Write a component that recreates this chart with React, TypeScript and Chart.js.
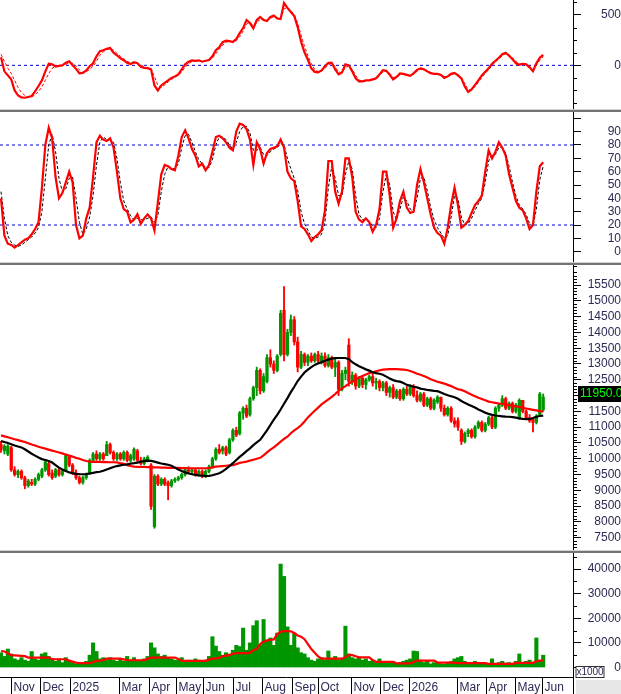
import React, { useEffect, useRef } from 'react';
import { Chart, registerables } from 'chart.js';

Chart.register(...registerables);

const FONT = '"Liberation Sans", Arial, sans-serif';
const TEXT = '#2a2a55';
const GREEN = '#009600';
const RED = '#ff0000';
const BLUE = '#0000cc';

// ---- time axis (bar index) ----
const monthStarts = [2.93, 11.44, 20.09, 34.6, 43.4, 51.32, 59.24, 67.89, 76.54, 85.34, 92.96, 102.64, 111.0, 119.65, 133.72, 142.23, 150.73, 158.65];
const monthLabels = ['Nov', 'Dec', '2025', 'Mar', 'Apr', 'May', 'Jun', 'Jul', 'Aug', 'Sep', 'Oct', 'Nov', 'Dec', '2026', 'Mar', 'Apr', 'May', 'Jun'];
const X_MIN = -0.293;
const X_MAX = 167.74;

// ---- price candles ----
const opens = [
  10450, 10250, 10150, 10350, 9650, 9500, 9600, 9400, 9150, 9250,
  9200, 9350, 9450, 9650, 9850, 9550, 9450, 9650, 9500, 9600,
  10050, 9800, 9550, 9400, 9250, 9400, 9550, 9950, 10150, 10000,
  10150, 10100, 10450, 10200, 10000, 10150, 10000, 10200, 9950, 10000,
  10250, 9950, 9850, 9950, 9800, 7850, 9450, 9200, 9350, 9250,
  9150, 9300, 9350, 9400, 9500, 9650, 9600, 9650, 9500, 9600,
  9450, 9600, 9750, 10000, 10300, 10250, 10350, 10200, 10600, 10900,
  10800, 11450, 11600, 11400, 11900, 12250, 12800, 12150, 12450, 13200,
  13000, 12800, 13300, 14700, 13300, 14000, 14400, 13700, 12900, 13300,
  13050, 13250, 13100, 13300, 13100, 13250, 12950, 13200, 12900, 13050,
  12200, 12700, 13600, 12450, 12650, 12300, 12550, 12350, 12500, 12600,
  12400, 12450, 12250, 12400, 12100, 12250, 11950, 12150, 11900, 12200,
  12050, 12300, 12000, 11850, 12050, 11700, 11900, 11600, 11800, 11950,
  11600, 11400, 11600, 11200, 11200, 10900, 10550, 10800, 10900, 10700,
  11000, 11150, 10900, 11100, 11300, 11000, 11600, 11700, 11900, 11600,
  11750, 11500, 11300, 11850, 11500, 11300, 11250, 11150, 11400, 11550,
];
const highs = [
  10550, 10450, 10450, 10400, 9750, 9650, 9650, 9450, 9350, 9350,
  9400, 9550, 9700, 9950, 9900, 9650, 9700, 9700, 9650, 10150,
  10100, 9850, 9650, 9450, 9450, 9550, 10000, 10200, 10250, 10200,
  10200, 10550, 10500, 10250, 10200, 10200, 10250, 10250, 10150, 10350,
  10300, 10050, 10050, 10100, 9850, 9500, 9500, 9400, 9400, 9300,
  9350, 9400, 9450, 9550, 9700, 9750, 9700, 9700, 9650, 9650,
  9650, 9800, 10050, 10350, 10450, 10400, 10400, 10650, 10950, 11000,
  11500, 11650, 11700, 11950, 12300, 12900, 12850, 12700, 13300, 13450,
  13100, 13300, 14700, 15450, 14100, 14550, 14500, 13850, 13400, 13350,
  13300, 13350, 13350, 13400, 13350, 13350, 13300, 13250, 13150, 13100,
  12800, 12900, 13800, 12750, 12700, 12600, 12600, 12550, 12650, 12700,
  12550, 12500, 12450, 12450, 12300, 12350, 12200, 12200, 12250, 12300,
  12350, 12350, 12150, 12100, 12100, 11950, 11950, 11900, 12000, 11950,
  11700, 11650, 11650, 11300, 11300, 10950, 10850, 10950, 10950, 11050,
  11200, 11200, 11150, 11350, 11350, 11650, 11750, 12000, 11950, 11800,
  11800, 11750, 11900, 11850, 11550, 11400, 11300, 11400, 12100, 12050,
];
const lows = [
  10200, 10150, 10100, 9600, 9450, 9400, 9350, 9050, 9100, 9150,
  9150, 9300, 9400, 9600, 9450, 9350, 9400, 9450, 9450, 9600,
  9750, 9500, 9350, 9200, 9200, 9350, 9500, 9900, 9950, 9950,
  9950, 10100, 10150, 9950, 9950, 9950, 9950, 9900, 9900, 9950,
  9900, 9800, 9800, 9900, 8400, 7800, 9150, 9150, 9150, 8700,
  9100, 9250, 9300, 9350, 9450, 9550, 9500, 9450, 9450, 9400,
  9400, 9550, 9700, 9950, 10150, 10150, 10100, 10150, 10550, 10700,
  10750, 11250, 11300, 11350, 11850, 12000, 12050, 12100, 12400, 12900,
  12700, 12750, 13250, 13100, 13250, 13900, 13600, 12750, 12850, 12950,
  12950, 13050, 13050, 13050, 13000, 12900, 12900, 12850, 12600, 12000,
  12150, 12500, 12300, 12350, 12200, 12250, 12250, 12200, 12450, 12300,
  12200, 12150, 12150, 12000, 11950, 11900, 11900, 11850, 11850, 12000,
  12000, 11950, 11800, 11800, 11650, 11650, 11550, 11550, 11750, 11500,
  11350, 11350, 11150, 11000, 10900, 10450, 10500, 10700, 10650, 10650,
  10950, 10850, 10850, 11050, 10950, 10950, 11500, 11650, 11550, 11550,
  11450, 11450, 11250, 11450, 11250, 11150, 10850, 11100, 11350, 11500,
];
const closes = [
  10300, 10400, 10400, 9650, 9500, 9600, 9400, 9150, 9300, 9200,
  9350, 9500, 9650, 9900, 9500, 9400, 9650, 9500, 9600, 10100,
  9800, 9550, 9400, 9250, 9400, 9500, 9950, 10150, 10000, 10150,
  10000, 10450, 10200, 10000, 10150, 10000, 10200, 9950, 10100, 10300,
  9950, 9850, 10000, 10050, 8500, 9450, 9200, 9350, 9200, 9150,
  9300, 9350, 9400, 9500, 9650, 9600, 9650, 9500, 9600, 9450,
  9600, 9750, 10000, 10300, 10200, 10350, 10150, 10600, 10900, 10750,
  11450, 11600, 11350, 11900, 12250, 12800, 12150, 12600, 13200, 13000,
  12800, 13250, 14600, 13300, 14000, 14400, 13700, 12900, 13300, 13050,
  13250, 13100, 13300, 13100, 13250, 12950, 13200, 12900, 13050, 12200,
  12700, 12800, 12450, 12650, 12300, 12550, 12350, 12500, 12600, 12400,
  12450, 12250, 12400, 12100, 12250, 11950, 12150, 11900, 12200, 12050,
  12300, 12000, 11850, 12050, 11700, 11900, 11600, 11850, 11950, 11600,
  11400, 11600, 11200, 11100, 11000, 10550, 10800, 10900, 10700, 11000,
  11150, 10900, 11100, 11300, 11000, 11600, 11700, 11900, 11600, 11750,
  11500, 11700, 11850, 11500, 11300, 11200, 11150, 11350, 12050, 11950,
];
// moving averages on price
const maFast = [
  10560, 10530, 10500, 10460, 10420, 10390, 10360, 10300, 10230, 10160,
  10100, 10040, 9990, 9960, 9930, 9880, 9800, 9720, 9660, 9610,
  9570, 9545, 9525, 9515, 9510, 9515, 9535, 9555, 9575, 9590,
  9620, 9660, 9700, 9740, 9770, 9790, 9810, 9825, 9845, 9860,
  9880, 9905, 9925, 9940, 9935, 9910, 9880, 9850, 9830, 9810,
  9780, 9720, 9660, 9610, 9570, 9540, 9510, 9490, 9475, 9465,
  9455, 9460, 9480, 9510, 9540, 9600, 9680, 9770, 9860, 9960,
  10060, 10150, 10240, 10330, 10430, 10520, 10600, 10750, 10900, 11070,
  11240, 11390, 11560, 11740, 11920, 12110, 12280, 12460, 12600, 12730,
  12820, 12900, 12970, 13020, 13060, 13100, 13140, 13170, 13185, 13190,
  13190, 13190, 13150, 13060, 12990, 12930, 12880, 12830, 12790, 12740,
  12710, 12690, 12660, 12600, 12540, 12490, 12460, 12440, 12400, 12340,
  12310, 12280, 12260, 12220, 12200, 12180, 12165, 12150, 12140, 12100,
  12050, 12010, 11980, 11950, 11900, 11830, 11770, 11720, 11670, 11620,
  11560, 11510, 11460, 11420, 11390, 11370, 11355, 11345, 11335, 11330,
  11320, 11300, 11280, 11265, 11255, 11260, 11290, 11330, 11355, 11365,
];
const maSlow = [
  10740, 10710, 10680, 10650, 10620, 10590, 10560, 10530, 10490, 10450,
  10420, 10380, 10350, 10320, 10290, 10260, 10230, 10200, 10170, 10130,
  10100, 10070, 10030, 10000, 9960, 9930, 9910, 9900, 9900, 9900,
  9895, 9895, 9890, 9890, 9885, 9860, 9840, 9800, 9770, 9750,
  9745, 9740, 9740, 9735, 9730, 9730, 9725, 9720, 9720, 9715,
  9715, 9710, 9710, 9705, 9705, 9700, 9700, 9700, 9700, 9700,
  9700, 9705, 9730, 9750, 9760, 9770, 9780, 9790, 9800, 9830,
  9870, 9890, 9910, 9940, 9970, 10000, 10030, 10110, 10200, 10290,
  10360, 10450, 10540, 10630, 10700, 10810, 10900, 10970, 11060, 11180,
  11310, 11420, 11520, 11620, 11720, 11800, 11880, 11960, 12050, 12150,
  12230, 12300, 12380, 12440, 12510, 12570, 12620, 12670, 12710, 12740,
  12770, 12800, 12820, 12830, 12840, 12840, 12840, 12830, 12820, 12810,
  12780, 12740, 12690, 12660, 12620, 12570, 12520, 12480, 12440, 12410,
  12380, 12340, 12300, 12250, 12200, 12180, 12140, 12080, 12030, 11980,
  11930, 11890, 11850, 11810, 11790, 11770, 11750, 11740, 11720, 11700,
  11680, 11660, 11640, 11610, 11590, 11570, 11550, 11530, 11510, 11490,
];

// ---- volume (x1000) ----
const volumes = [
  6000, 4500, 7500, 5500, 3500, 3000, 4000, 3000, 2500, 6500,
  3500, 3000, 5500, 6000, 4500, 3000, 2500, 3500, 2000, 4000,
  2500, 2000, 1500, 2000, 1500, 2500, 5000, 10000, 6500, 3500,
  4000, 3000, 4000, 3000, 2500, 3500, 2500, 4500, 3000, 4000,
  2500, 3000, 3500, 4500, 10000, 8000, 5500, 4500, 5000, 4000,
  3500, 3000, 3000, 4000, 2500, 3000, 2500, 3500, 3000, 2500,
  3000, 4500, 12500, 8700, 6500, 5000, 6000, 5500, 7000, 9000,
  8500, 16000, 7000, 10000, 17000, 19000, 9000, 19500, 11000, 12000,
  9000, 14000, 42000, 37000, 16500, 9000, 14000, 8000, 6000, 5500,
  4000, 3000, 2500, 3500, 4000, 3000, 6700, 3500, 4500, 3000,
  3500, 16800, 5500, 4000, 3500, 4000, 3000, 3500, 2500, 3000,
  2000, 3500, 2500, 2000, 1800, 2200, 1500, 2000, 2500, 3000,
  3500, 6700, 6500, 3000, 2000, 2500, 1500, 2000, 1800, 1500,
  1300, 2000, 2500, 3500, 4000, 4500, 2500, 2000, 1800, 2500,
  2000, 1500, 1800, 1500, 3500, 1500, 2000, 2500, 1800, 2000,
  1500, 2500, 5500, 2000, 2500, 3000, 1800, 12000, 2500, 5000,
];
const volumeMa = [
  6700, 6500, 5800, 5000, 4900, 4800, 4700, 4600, 4050, 4050,
  4050, 4050, 4050, 4050, 4050, 3400, 3350, 3350, 3350, 3350,
  2800, 2400, 2000, 1750, 1750, 1750, 1750, 2200, 2700, 2800,
  3000, 3600, 3600, 3600, 3600, 3600, 3300, 2950, 2950, 2950,
  2950, 2950, 2950, 3500, 4050, 4050, 4050, 4050, 4050, 4050,
  4050, 4050, 3500, 2700, 2700, 2700, 2700, 2700, 2700, 2700,
  2700, 3200, 3600, 3700, 3900, 4600, 4800, 5000, 5600, 5800,
  5800, 5800, 5800, 6000, 7000, 7500, 9500, 10500, 11000, 11200,
  11400, 13500, 14500, 14800, 14800, 14700, 14000, 13000, 12500, 11500,
  9500, 7500, 6000, 4500, 3600, 3600, 3600, 3600, 3600, 3600,
  3600, 4200, 5100, 5000, 4600, 4100, 4100, 4100, 4100, 3000,
  2300, 2300, 2300, 2300, 2300, 2300, 1700, 1700, 1700, 1700,
  1700, 2200, 2800, 2800, 2800, 2800, 2800, 2800, 2000, 2000,
  2000, 2000, 2000, 2000, 1800, 1800, 1800, 1800, 1800, 1800,
  1800, 1800, 1800, 1500, 1500, 1500, 1500, 1500, 1500, 1500,
  1500, 1900, 1900, 1900, 1900, 1900, 1900, 2500, 2800, 2900,
];

// ---- MACD ----
const macd = [
  80, -60, -100, -140, -250, -300, -318, -322, -315, -305,
  -260, -205, -150, -60, 15, 10, -13, -5, 0, 25,
  40, 0, -35, -80, -75, -50, -10, 20, 90, 140,
  150, 165, 172, 125, 100, 70, 50, 25, 13, 30,
  20, -15, -25, -28, -40, -200, -250, -200, -175, -150,
  -125, -110, -90, -40, 10, 35, 50, 45, 50, 36,
  45, 52, 90, 150, 180, 230, 245, 240, 232, 260,
  320, 370, 450, 420, 368, 450, 480, 450, 440, 480,
  495, 465, 460, 620, 570, 530, 490, 380, 235, 130,
  55, -30, -65, -70, -50, -10, 25, 25, -40, -90,
  -70, 10, 0, -60, -130, -160, -160, -150, -150, -140,
  -128, -90, -48, -55, -95, -140, -115, -80, -85, -95,
  -105, -80, -45, -30, -40, -60, -78, -85, -85, -95,
  -125, -110, -85, -75, -100, -130, -210, -265, -240, -195,
  -150, -100, -63, -30, 15, 45, 75, 110, 125, 95,
  60, 20, 5, 15, 10, -20, -58, 20, 75, 103,
];
const macdSignal = [
  110, 40, -30, -80, -150, -220, -270, -300, -312, -312,
  -295, -260, -215, -150, -80, -30, -10, -8, -5, 8,
  25, 20, -5, -45, -70, -65, -40, -10, 40, 100,
  135, 155, 165, 150, 120, 90, 65, 40, 22, 22,
  22, 5, -15, -25, -35, -110, -200, -220, -195, -165,
  -140, -120, -100, -65, -20, 15, 38, 45, 47, 42,
  43, 48, 70, 115, 160, 200, 230, 238, 235, 245,
  285, 340, 410, 425, 395, 420, 460, 460, 448, 465,
  485, 475, 465, 560, 575, 545, 505, 420, 300, 190,
  95, 15, -40, -62, -58, -30, 5, 20, -15, -65,
  -75, -20, -5, -40, -100, -145, -158, -155, -150, -145,
  -135, -105, -65, -58, -80, -120, -120, -95, -88, -92,
  -100, -88, -60, -40, -40, -52, -70, -80, -85, -92,
  -112, -112, -95, -82, -92, -118, -180, -240, -245, -210,
  -170, -120, -80, -45, 0, 35, 62, 95, 115, 105,
  75, 38, 15, 15, 12, -10, -42, 0, 50, 88,
];

// ---- Stochastic ----
const stochK = [
  40, 12, 6, 5, 3, 5, 7, 9, 10, 13,
  17, 22, 48, 80, 93, 85, 56, 40, 44, 52,
  60, 52, 20, 10, 12, 25, 33, 56, 82, 87,
  84, 83, 85, 78, 60, 40, 32, 30, 22, 24,
  28, 21, 25, 28, 25, 16, 37, 58, 65, 64,
  62, 61, 72, 86, 91, 85, 77, 72, 64, 66,
  61, 65, 75, 86, 87, 85, 82, 78, 76, 90,
  96, 95, 92, 84, 65, 82, 77, 66, 74, 77,
  78, 79, 84, 78, 60, 55, 53, 38, 19, 17,
  13, 8, 11, 13, 16, 31, 68, 68, 45, 36,
  45, 70, 70, 56, 30, 24, 22, 25, 22, 15,
  20, 32, 60, 60, 42, 18, 25, 38, 45, 33,
  29, 30, 50, 62, 52, 40, 28, 18, 14, 12,
  6, 18, 35, 48, 35, 18, 20, 23, 29, 35,
  38, 42, 60, 76, 70, 75, 82, 78, 72, 58,
  48, 38, 33, 31, 25, 17, 20, 45, 64, 67,
];
const stochD = [
  45, 25, 12, 7, 5, 4, 5, 7, 9, 11,
  14, 18, 30, 55, 80, 88, 75, 55, 45, 47,
  55, 56, 40, 22, 13, 17, 26, 42, 65, 82,
  86, 84, 84, 82, 70, 52, 38, 32, 27, 24,
  25, 24, 24, 25, 26, 22, 27, 45, 58, 64,
  63, 62, 66, 78, 87, 88, 82, 75, 69, 66,
  63, 63, 69, 80, 86, 86, 84, 80, 77, 82,
  90, 94, 94, 89, 76, 76, 78, 73, 72, 75,
  77, 78, 81, 80, 70, 62, 55, 46, 30, 21,
  16, 11, 10, 11, 13, 22, 48, 64, 55, 42,
  42, 58, 68, 62, 42, 28, 24, 24, 23, 19,
  18, 25, 45, 58, 50, 30, 24, 32, 41, 38,
  32, 30, 40, 55, 56, 46, 33, 24, 18, 14,
  10, 12, 26, 42, 40, 26, 20, 21, 25, 31,
  36, 40, 52, 68, 72, 73, 78, 78, 74, 64,
  52, 42, 35, 32, 28, 21, 19, 32, 54, 64,
];

// ---- reference levels & axis ticks ----
const macdLevels = [0];
const stochLevels = [80, 20];
const macdTicks = [0, 500];
const macdMinor = [-375, -250, -125, 125, 250, 375, 625];
const stochTicks = [0, 10, 20, 30, 40, 50, 60, 70, 80, 90, 100];
const priceTicks = [7500, 8000, 8500, 9000, 9500, 10000, 10500, 11000, 11500, 12000, 12500, 13000, 13500, 14000, 14500, 15000, 15500];
const volTicks = [0, 10000, 20000, 30000, 40000];
const volMinor = [5000, 15000, 25000, 35000, 45000];

const priceMinor: number[] = [];
for (let v = 7200; v <= 16100; v += 100) if (v % 500 !== 0) priceMinor.push(v);

// ---------------------------------------------------------------
function yAxis(min: number, max: number, tickValues: number[], pad: number, label: (v: number) => string) {
  return {
    type: 'linear',
    position: 'right',
    min,
    max,
    afterBuildTicks: (s: any) => {
      s.ticks = tickValues.map((v) => ({ value: v }));
    },
    afterFit: (s: any) => {
      s.width = 48;
      s.paddingTop = 0;
      s.paddingBottom = 0;
    },
    ticks: {
      autoSkip: false,
      color: TEXT,
      font: { family: FONT, size: 12 },
      padding: pad,
      crossAlign: 'far',
      callback: (v: any) => label(Number(v)),
    },
    grid: { drawOnChartArea: false, drawTicks: true, tickLength: 8, color: '#000', lineWidth: 1 },
    border: { display: true, color: '#000', width: 1 },
  };
}

function baseOptions(y: any, bottomPad = 0): any {
  return {
    animation: false,
    responsive: false,
    maintainAspectRatio: false,
    events: [],
    layout: { padding: { left: 0, right: 0, top: 0, bottom: bottomPad } },
    plugins: { legend: { display: false }, tooltip: { enabled: false } },
    scales: {
      x: { type: 'linear', min: X_MIN, max: X_MAX, display: false, offset: false },
      y,
    },
  };
}

const line = (vals: number[], color: string, width: number, dash: number[] = [], order = 0) => ({
  type: 'line',
  data: vals.map((v, i) => ({ x: i, y: v })),
  borderColor: color,
  borderWidth: width,
  borderDash: dash,
  pointRadius: 0,
  fill: false,
  tension: 0,
  order,
});

const hline = (v: number) => ({
  type: 'line',
  data: [
    { x: X_MIN, y: v },
    { x: X_MAX, y: v },
  ],
  borderColor: BLUE,
  borderWidth: 1,
  borderDash: [3, 3],
  pointRadius: 0,
  fill: false,
  order: 5,
});

const minorTicks = (values: number[], len: number) => ({
  id: 'minorTicks',
  afterDraw(chart: any) {
    const s = chart.scales.y;
    const ctx = chart.ctx;
    ctx.save();
    ctx.strokeStyle = '#000';
    ctx.lineWidth = 1;
    values.forEach((v) => {
      if (v < s.min || v > s.max) return;
      const y = Math.round(s.getPixelForValue(v)) + 0.5;
      ctx.beginPath();
      ctx.moveTo(s.left, y);
      ctx.lineTo(s.left + len, y);
      ctx.stroke();
    });
    ctx.restore();
  },
});

const lastPriceBox = {
  id: 'lastPriceBox',
  afterDraw(chart: any) {
    const s = chart.scales.y;
    const ctx = chart.ctx;
    const last = closes[closes.length - 1];
    const y = s.getPixelForValue(last);
    ctx.save();
    ctx.fillStyle = '#000';
    ctx.fillRect(s.left + 5, Math.round(y) - 11, 48, 16);
    ctx.fillStyle = '#00ff00';
    ctx.font = `12px ${FONT}`;
    ctx.textAlign = 'left';
    ctx.textBaseline = 'middle';
    ctx.fillText(last.toFixed(2), s.left + 7, Math.round(y) - 3);
    ctx.restore();
  },
};

const timeAxis = {
  id: 'timeAxis',
  afterDraw(chart: any) {
    const { ctx, chartArea } = chart;
    const xs = chart.scales.x;
    const bottom = Math.round(chartArea.bottom) + 0.5;
    const h = chart.height;
    ctx.save();
    ctx.strokeStyle = '#000';
    ctx.lineWidth = 1;
    ctx.beginPath();
    ctx.moveTo(0, bottom);
    ctx.lineTo(chartArea.right, bottom);
    ctx.stroke();
    ctx.font = `12px ${FONT}`;
    ctx.fillStyle = TEXT;
    ctx.textAlign = 'left';
    ctx.textBaseline = 'middle';
    monthStarts.forEach((m, k) => {
      const x = Math.round(xs.getPixelForValue(m)) + 0.5;
      ctx.beginPath();
      ctx.moveTo(x, bottom);
      ctx.lineTo(x, h);
      ctx.stroke();
      ctx.fillText(monthLabels[k], x + 2, bottom + 10);
    });
    const rx = Math.round(chartArea.right) + 0.5;
    ctx.beginPath();
    ctx.moveTo(rx, bottom);
    ctx.lineTo(rx, h);
    ctx.stroke();
    ctx.fillStyle = '#e6e6e6';
    ctx.fillRect(rx + 2.5, bottom + 2.5, chart.width - rx, h - bottom);
    // x1000 unit box
    ctx.fillStyle = '#fff';
    ctx.fillRect(rx + 2.5, bottom - 11, 28, 11);
    ctx.strokeStyle = '#333';
    ctx.strokeRect(rx + 2.5, bottom - 11, 28, 11);
    ctx.fillStyle = TEXT;
    ctx.font = `10px ${FONT}`;
    ctx.textAlign = 'center';
    ctx.fillText('x1000', rx + 16.5, bottom - 5);
    ctx.restore();
  },
};

const W = 621;
const P_MACD = { top: 0, h: 109 };
const P_STOCH = { top: 112, h: 150 };
const P_PRICE = { top: 265, h: 285 };
const P_VOL = { top: 553, h: 141 };

function Separator({ top }: { top: number }) {
  return (
    <div
      style={{
        position: 'absolute',
        left: 0,
        top,
        width: W,
        height: 2,
        borderTop: '1px solid #d2d2d2',
        background: '#747474',
      }}
    />
  );
}

export default function App() {
  const macdRef = useRef<HTMLCanvasElement>(null);
  const stochRef = useRef<HTMLCanvasElement>(null);
  const priceRef = useRef<HTMLCanvasElement>(null);
  const volRef = useRef<HTMLCanvasElement>(null);

  useEffect(() => {
    document.body.style.margin = '0';
    document.body.style.background = '#fff';
    const charts: Chart[] = [];

    charts.push(
      new Chart(macdRef.current!, {
        type: 'line',
        data: {
          datasets: [
            line(macd, RED, 2.2, [], 0),
            line(macdSignal, RED, 1, [3, 2], 1),
            ...macdLevels.map(hline),
          ] as any,
        },
        options: baseOptions(yAxis(-434, 649, macdTicks, 18, (v) => String(v))),
        plugins: [minorTicks(macdMinor, 4)],
      } as any)
    );

    charts.push(
      new Chart(stochRef.current!, {
        type: 'line',
        data: {
          datasets: [
            line(stochK, RED, 2.2, [], 0),
            line(stochD, '#000', 1, [3, 2], 1),
            ...stochLevels.map(hline),
          ] as any,
        },
        options: baseOptions(yAxis(-7.75, 104.75, stochTicks, 25, (v) => (v === 100 ? '' : String(v)))),
      } as any)
    );

    const candleColors = closes.map((c, i) => (c >= opens[i] ? GREEN : RED));
    charts.push(
      new Chart(priceRef.current!, {
        type: 'bar',
        data: {
          datasets: [
            line(maFast, '#000', 2.2, [], 0),
            line(maSlow, RED, 2.2, [], 1),
            {
              type: 'bar',
              data: opens.map((o, i) => ({ x: i, y: [o, closes[i]] })),
              backgroundColor: candleColors,
              borderWidth: 0,
              barThickness: 2.6,
              grouped: false,
              order: 3,
            },
            {
              type: 'bar',
              data: lows.map((l, i) => ({ x: i, y: [l, highs[i]] })),
              backgroundColor: candleColors,
              borderWidth: 0,
              barThickness: 1.2,
              grouped: false,
              order: 4,
            },
          ] as any,
        },
        options: baseOptions(yAxis(7113, 16133, priceTicks, 5, (v) => String(v))),
        plugins: [minorTicks(priceMinor, 4), lastPriceBox],
      } as any)
    );

    charts.push(
      new Chart(volRef.current!, {
        type: 'bar',
        data: {
          datasets: [
            line(volumeMa, RED, 2.2, [], 0),
            {
              type: 'bar',
              data: volumes.map((v, i) => ({ x: i, y: v })),
              backgroundColor: GREEN,
              borderWidth: 0,
              barPercentage: 1,
              categoryPercentage: 1,
              grouped: false,
              order: 3,
            },
          ] as any,
        },
        options: baseOptions(yAxis(-3858, 46498, volTicks, 5, (v) => String(v)), 17),
        plugins: [minorTicks(volMinor, 4), timeAxis],
      } as any)
    );

    return () => charts.forEach((c) => c.destroy());
  }, []);

  const cv = (top: number, h: number) => ({
    position: 'absolute' as const,
    left: 0,
    top,
    width: W,
    height: h,
    display: 'block',
  });

  return (
    <div style={{ position: 'relative', width: W, height: 694, background: '#fff', overflow: 'hidden' }}>
      <canvas ref={macdRef} width={W} height={P_MACD.h} style={cv(P_MACD.top, P_MACD.h)} />
      <Separator top={109} />
      <canvas ref={stochRef} width={W} height={P_STOCH.h} style={cv(P_STOCH.top, P_STOCH.h)} />
      <Separator top={262} />
      <canvas ref={priceRef} width={W} height={P_PRICE.h} style={cv(P_PRICE.top, P_PRICE.h)} />
      <Separator top={550} />
      <canvas ref={volRef} width={W} height={P_VOL.h} style={cv(P_VOL.top, P_VOL.h)} />
    </div>
  );
}
